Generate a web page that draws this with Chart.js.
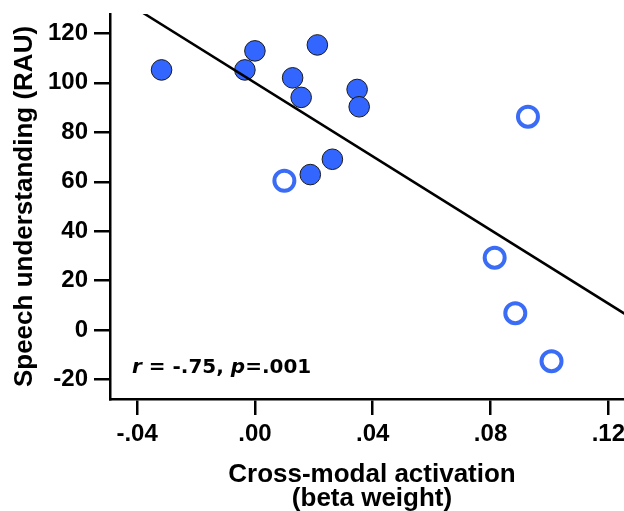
<!DOCTYPE html>
<html>
<head>
<meta charset="utf-8">
<title>Speech understanding vs cross-modal activation</title>
<script src="https://cdn.jsdelivr.net/npm/chart.js@4.4.0/dist/chart.umd.min.js"></script>
<style>
  html, body { margin: 0; padding: 0; background: #fff; overflow: hidden; }
  #wrap { width: 660px; height: 511px; }
</style>
</head>
<body>
<div id="wrap"><canvas id="scatterChart" width="660" height="511"></canvas></div>
<script>
// ========== Data ==========
// filled markers
const solidX = [-0.0317, -0.0034, 0.0000, 0.0212, 0.0128, 0.0157, 0.0347, 0.0354, 0.0263, 0.0188];
const solidY = [105.2, 105.2, 112.9, 115.3, 102.0, 94.1, 97.3, 90.3, 69.1, 62.9];

// hollow markers
const hollowX = [0.0100, 0.0927, 0.0814, 0.0884, 0.1007];
const hollowY = [60.4, 86.3, 29.3, 6.9, -12.5];

// fitted line, end points at the axis limits
const fitX = [-0.0492, 0.1287];
const fitY = [136.6, 4.3];

const xTickValues = [-0.04, 0.00, 0.04, 0.08, 0.12];
const xTickLabels = ["-.04", ".00", ".04", ".08", ".12"];
const yTickValues = [-20, 0, 20, 40, 60, 80, 100, 120];
const yTickLabels = ["-20", "0", "20", "40", "60", "80", "100", "120"];

const toPoints = (xs, ys) => xs.map((x, i) => ({ x: x, y: ys[i] }));

const ARIAL = "'Liberation Sans', Arial, sans-serif";

// ========== r / p annotation ==========
const statsLabel = {
  id: "statsLabel",
  afterDraw(chart) {
    const { ctx, chartArea } = chart;
    const parts = [["r", true], [" = -.75, ", false], ["p", true], ["=.001", false]];
    let x = chartArea.left + 22;
    const y = chartArea.bottom - 26;
    ctx.save();
    ctx.fillStyle = "#000";
    ctx.textBaseline = "alphabetic";
    parts.forEach(([text, italic]) => {
      ctx.font = (italic ? "italic " : "") + "bold 20px 'DejaVu Sans', Verdana, sans-serif";
      ctx.fillText(text, x, y);
      x += ctx.measureText(text).width;
    });
    ctx.restore();
  }
};

// ========== Axis styling shared by both scales ==========
const axisGrid = {
  drawOnChartArea: false,
  drawTicks: true,
  tickLength: 16,
  tickColor: "#000",
  tickWidth: 2.5,
  lineWidth: 2.5,
  color: "#000"
};
const axisBorder = { display: true, color: "#000", width: 2.5 };
const tickFont = { family: ARIAL, weight: "bold", size: 24 };

// ========== Chart ==========
const ctx = document.getElementById("scatterChart").getContext("2d");
new Chart(ctx, {
  type: "scatter",
  data: {
    datasets: [
      {
        type: "line",
        data: toPoints(fitX, fitY),
        borderColor: "#000",
        borderWidth: 2.5,
        pointRadius: 0,
        fill: false,
        clip: 0,
        order: 0
      },
      {
        data: toPoints(solidX, solidY),
        backgroundColor: "#3366ff",
        borderColor: "#1a1a1a",
        borderWidth: 1,
        pointRadius: 10.3,
        order: 1
      },
      {
        data: toPoints(hollowX, hollowY),
        backgroundColor: "#ffffff",
        borderColor: "#3a6cf6",
        borderWidth: 4,
        pointRadius: 10,
        order: 2
      }
    ]
  },
  options: {
    responsive: false,
    animation: false,
    events: [],
    layout: { padding: { top: 13, right: 26, bottom: 0, left: 0 } },
    plugins: {
      legend: { display: false },
      tooltip: { enabled: false }
    },
    scales: {
      x: {
        type: "linear",
        min: -0.0492,
        max: 0.1287,
        afterBuildTicks: (axis) => { axis.ticks = xTickValues.map((v) => ({ value: v })); },
        afterFit: (axis) => { axis.height = 112; },
        border: axisBorder,
        grid: axisGrid,
        ticks: {
          color: "#000",
          padding: 5,
          font: tickFont,
          callback: (value) => xTickLabels[xTickValues.indexOf(value)]
        },
        title: {
          display: true,
          text: ["Cross-modal activation", "(beta weight)"],
          color: "#000",
          font: { family: ARIAL, weight: "bold", size: 26, lineHeight: 0.92 },
          padding: { top: 0, bottom: 0 }
        }
      },
      y: {
        type: "linear",
        min: -27.8,
        max: 127.8,
        afterBuildTicks: (axis) => { axis.ticks = yTickValues.map((v) => ({ value: v })); },
        afterFit: (axis) => {
          axis.width = 110;
          axis.paddingTop = 0;
          axis.paddingBottom = 0;
        },
        border: axisBorder,
        grid: axisGrid,
        ticks: {
          color: "#000",
          padding: 6,
          font: tickFont,
          callback: (value) => yTickLabels[yTickValues.indexOf(value)]
        },
        title: {
          display: true,
          text: "Speech understanding (RAU)",
          color: "#000",
          font: { family: ARIAL, weight: "bold", size: 26, lineHeight: 1.2 },
          padding: { top: 9, bottom: 0 }
        }
      }
    }
  },
  plugins: [statsLabel]
});
</script>
</body>
</html>
